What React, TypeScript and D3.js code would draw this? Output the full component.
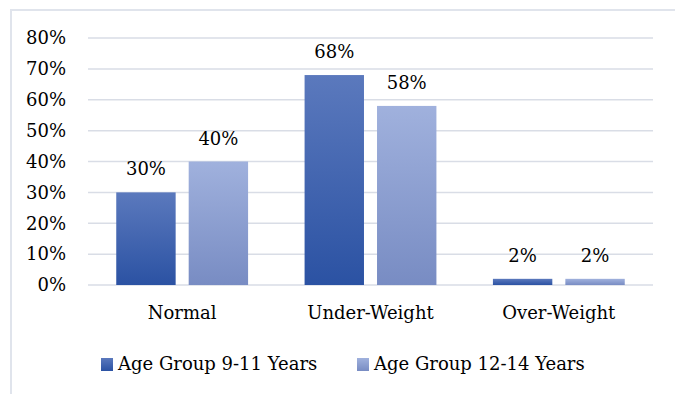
import React, { useEffect, useRef } from "react";
import * as d3 from "d3";

const categories = ["Normal", "Under-Weight", "Over-Weight"];
const seriesNames = ["Age Group 9-11 Years", "Age Group 12-14 Years"];
const age9to11 = [30, 68, 2];
const age12to14 = [40, 58, 2];
const yTicks = [0, 10, 20, 30, 40, 50, 60, 70, 80];

const FONT = "'Palatino Linotype', 'Book Antiqua', Palatino, 'DejaVu Serif', serif";
const FS = 18;

const App = () => {
  const svgRef = useRef<SVGSVGElement | null>(null);

  useEffect(() => {
    const svg = d3.select(svgRef.current);
    svg.selectAll("*").remove();

    const width = 675;
    const height = 394;
    const margin = { top: 38, right: 22, bottom: 109, left: 88 };

    // gradients for the two series
    const defs = svg.append("defs");
    const grads = [
      { id: "g1", top: "#5b79bd", bottom: "#2b52a3" },
      { id: "g2", top: "#a0b1dd", bottom: "#788cc3" },
    ];
    grads.forEach((g) => {
      const lg = defs
        .append("linearGradient")
        .attr("id", g.id)
        .attr("x1", 0)
        .attr("y1", 0)
        .attr("x2", 0)
        .attr("y2", 1);
      lg.append("stop").attr("offset", "0%").attr("stop-color", g.top);
      lg.append("stop").attr("offset", "100%").attr("stop-color", g.bottom);
    });

    // chart border (only top & left visible)
    svg
      .append("path")
      .attr("d", `M11,${height} L11,10 L${width},10`)
      .attr("fill", "none")
      .attr("stroke", "#e0e4ec")
      .attr("stroke-width", 2);

    const x0 = d3
      .scaleBand()
      .domain(categories)
      .range([margin.left, width - margin.right])
      .paddingInner(0.3)
      .paddingOuter(0.15);
    const x1 = d3
      .scaleBand()
      .domain(["a", "b"])
      .range([0, x0.bandwidth()])
      .paddingInner(0.18);
    const y = d3
      .scaleLinear()
      .domain([0, 80])
      .range([height - margin.bottom, margin.top]);

    // gridlines
    svg
      .append("g")
      .selectAll("line")
      .data(yTicks)
      .join("line")
      .attr("x1", margin.left)
      .attr("x2", width - margin.right)
      .attr("y1", (d) => y(d))
      .attr("y2", (d) => y(d))
      .attr("stroke", "#d9dde6")
      .attr("stroke-width", 1.5);

    // y labels
    svg
      .append("g")
      .selectAll("text")
      .data(yTicks)
      .join("text")
      .attr("x", 66)
      .attr("y", (d) => y(d))
      .attr("dy", "0.35em")
      .attr("text-anchor", "end")
      .attr("font-family", FONT)
      .attr("font-size", FS)
      .attr("fill", "#000")
      .text((d) => `${d}%`);

    const rows = categories.map((c, i) => ({
      cat: c,
      vals: [
        { key: "a", v: age9to11[i], fill: "url(#g1)" },
        { key: "b", v: age12to14[i], fill: "url(#g2)" },
      ],
    }));

    const groups = svg
      .append("g")
      .selectAll("g")
      .data(rows)
      .join("g")
      .attr("transform", (d) => `translate(${x0(d.cat)},0)`);

    groups
      .selectAll("rect")
      .data((d) => d.vals)
      .join("rect")
      .attr("x", (d) => x1(d.key)!)
      .attr("width", x1.bandwidth())
      .attr("y", (d) => y(d.v))
      .attr("height", (d) => y(0) - y(d.v))
      .attr("fill", (d) => d.fill);

    groups
      .selectAll("text")
      .data((d) => d.vals)
      .join("text")
      .attr("x", (d) => x1(d.key)! + x1.bandwidth() / 2)
      .attr("y", (d) => y(d.v) - 17)
      .attr("text-anchor", "middle")
      .attr("font-family", FONT)
      .attr("font-size", FS)
      .attr("fill", "#000")
      .text((d) => `${d.v}%`);

    // category labels
    svg
      .append("g")
      .selectAll("text")
      .data(categories)
      .join("text")
      .attr("x", (d) => x0(d)! + x0.bandwidth() / 2)
      .attr("y", 319)
      .attr("text-anchor", "middle")
      .attr("font-family", FONT)
      .attr("font-size", FS)
      .attr("fill", "#000")
      .text((d) => d);

    // legend
    const legendX = [101, 357];
    const legend = svg
      .append("g")
      .selectAll("g")
      .data(seriesNames)
      .join("g")
      .attr("transform", (d, i) => `translate(${legendX[i]},358)`);
    legend
      .append("rect")
      .attr("width", 12)
      .attr("height", 13)
      .attr("fill", (d, i) => (i === 0 ? "url(#g1)" : "url(#g2)"));
    legend
      .append("text")
      .attr("x", 17)
      .attr("y", 12)
      .attr("font-family", FONT)
      .attr("font-size", FS)
      .attr("fill", "#000")
      .text((d) => d);
  }, []);

  return (
    <svg
      ref={svgRef}
      width={675}
      height={394}
      style={{ position: "absolute", left: 0, top: 0, background: "#fff" }}
    ></svg>
  );
};

export default App;
